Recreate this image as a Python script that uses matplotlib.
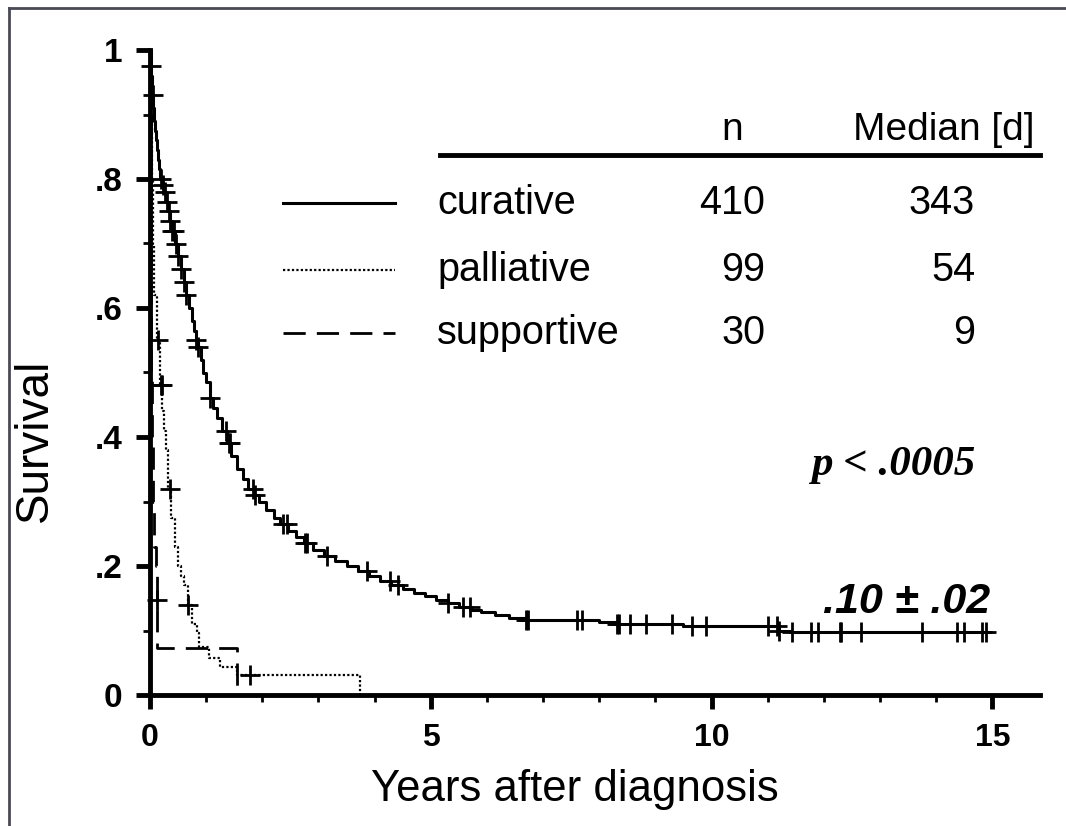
import numpy as np
import matplotlib.pyplot as plt
from matplotlib.lines import Line2D
from matplotlib.ticker import MultipleLocator

plt.rcParams['font.family'] = ['Liberation Sans', 'DejaVu Sans']

# Kaplan-Meier step knots (years, survival)
cur_t = [0, 0.01, 0.02, 0.03, 0.04, 0.055, 0.07, 0.085, 0.10, 0.12, 0.14, 0.16, 0.18,
         0.21, 0.25, 0.28, 0.32, 0.36, 0.40, 0.45, 0.50, 0.55, 0.60, 0.65, 0.70, 0.74,
         0.78, 0.82, 0.85, 0.90, 0.95, 1.0, 1.07, 1.13, 1.2, 1.28, 1.37, 1.45, 1.55,
         1.65, 1.75, 1.85, 1.95, 2.07, 2.2, 2.32, 2.45, 2.6, 2.75, 2.9, 3.1, 3.3, 3.5,
         3.7, 3.9, 4.1, 4.3, 4.5, 4.7, 4.9, 5.1, 5.3, 5.5, 5.7, 5.9, 6.15, 6.4, 6.7,
         8.0, 8.3, 9.5, 11.2, 11.4, 14.9]
cur_s = [1.0, 0.975, 0.96, 0.945, 0.93, 0.91, 0.89, 0.875, 0.86, 0.845, 0.83, 0.815,
         0.80, 0.79, 0.78, 0.765, 0.75, 0.735, 0.72, 0.70, 0.68, 0.66, 0.64, 0.62, 0.60,
         0.58, 0.565, 0.55, 0.54, 0.52, 0.50, 0.485, 0.46, 0.445, 0.43, 0.41, 0.39, 0.37,
         0.35, 0.335, 0.32, 0.31, 0.30, 0.287, 0.275, 0.265, 0.255, 0.245, 0.235, 0.225,
         0.215, 0.207, 0.20, 0.192, 0.185, 0.177, 0.17, 0.164, 0.158, 0.153, 0.148,
         0.142, 0.137, 0.132, 0.128, 0.124, 0.12, 0.117, 0.113, 0.11, 0.107, 0.10,
         0.097, 0.097]
cur_cens = [0.01, 0.05, 0.2, 0.23, 0.26, 0.3, 0.33, 0.36, 0.4, 0.43, 0.46, 0.5, 0.55,
            0.6, 0.65, 0.82, 0.86, 1.07, 1.35, 1.4, 1.43, 1.83, 1.87, 2.37, 2.44,
            2.76, 2.8, 3.15, 3.86, 4.27, 4.41, 5.3, 5.57, 5.69, 6.7, 6.73, 7.6,
            7.69, 8.32, 8.36, 8.54, 8.84, 9.3, 9.66, 9.91, 11.0, 11.17, 11.2, 11.44,
            11.78, 11.89, 12.28, 12.31, 12.67, 13.74, 14.38, 14.5, 14.82, 14.88]

pal_t = [0, 0.02, 0.04, 0.06, 0.08, 0.12, 0.18, 0.22, 0.25, 0.28, 0.32, 0.38, 0.45,
         0.5, 0.55, 0.6, 0.68, 0.75, 0.83, 0.88, 1.05, 1.25, 1.55, 3.74]
pal_s = [1.0, 0.9, 0.8, 0.7, 0.62, 0.55, 0.48, 0.44, 0.41, 0.38, 0.32, 0.275, 0.23,
         0.20, 0.185, 0.17, 0.14, 0.11, 0.096, 0.074, 0.057, 0.044, 0.031, 0.0]
pal_cens = [0.14, 0.19, 0.21, 0.36, 0.68, 1.78]

sup_t = [0, 0.005, 0.01, 0.015, 0.02, 0.025, 0.035, 0.05, 0.07, 0.1, 0.12, 0.13, 1.55]
sup_s = [1.0, 0.9, 0.8, 0.7, 0.6, 0.5, 0.4, 0.3, 0.23, 0.2, 0.147, 0.073, 0.0]
sup_cens = [0.125]

groups = ['curative', 'palliative', 'supportive']
n_pat = [410, 99, 30]
median_d = [343, 54, 9]

styles = [dict(ls='-', lw=2.2), dict(ls=(0, (1, 1)), lw=1.6), dict(ls=(0, (8, 4)), lw=2.0)]

fig = plt.figure(figsize=(10.66, 8.26), dpi=100)
ax = fig.add_axes([150 / 1066, 131 / 826, 890 / 1066, 645 / 826])


def surv_at(t, s, c):
    idx = np.searchsorted(t, c, side='right') - 1
    return np.asarray(s)[idx]


curves = [(cur_t, cur_s, cur_cens), (pal_t, pal_s, pal_cens), (sup_t, sup_s, sup_cens)]
for (t, s, c), st in zip(curves, styles):
    ax.step(t, s, where='post', color='black', clip_on=False, **st)
    ax.plot(c, surv_at(t, s, c), '+', color='black', ms=14, mew=2, clip_on=False)

ax.set_xlim(0, 15.85)
ax.set_ylim(0, 1)
for sp in ['top', 'right']:
    ax.spines[sp].set_visible(False)
for sp in ['left', 'bottom']:
    ax.spines[sp].set_linewidth(3.5)

ax.set_xticks([0, 5, 10, 15])
ax.set_xticklabels(['0', '5', '10', '15'], fontweight='bold', fontsize=23)
ax.xaxis.set_minor_locator(MultipleLocator(1))
ax.set_yticks([0, 0.2, 0.4, 0.6, 0.8, 1.0])
ax.set_yticklabels(['0', '.2', '.4', '.6', '.8', '1'], fontweight='bold', fontsize=24)
ax.yaxis.set_minor_locator(MultipleLocator(0.1))
ax.tick_params(which='major', length=10, width=3.5, pad=10)
ax.tick_params(which='minor', length=5, width=2)

fig.text(575 / 1066, 1 - 790 / 826, 'Years after diagnosis', fontsize=31.5,
         ha='center', va='center')
fig.text(35 / 1066, 1 - 440 / 826, 'Survival', fontsize=33, rotation=90,
         ha='center', va='center')

# legend table
ax.plot([0.326, 1.0], [0.837, 0.837], transform=ax.transAxes, color='black', lw=3.5,
        clip_on=False)
ax.text(0.654, 0.876, 'n', transform=ax.transAxes, fontsize=28, ha='center', va='center')
ax.text(0.994, 0.876, 'Median [d]', transform=ax.transAxes, fontsize=28, ha='right',
        va='center')
row_y = [0.763, 0.659, 0.561]
for g, n, m, y, st in zip(groups, n_pat, median_d, row_y, styles):
    ax.plot([0.149, 0.275], [y, y], transform=ax.transAxes, color='black', **st)
    ax.text(0.3225, y, g, transform=ax.transAxes, fontsize=28.5, va='center')
    ax.text(0.691, y, str(n), transform=ax.transAxes, fontsize=28.5, ha='right', va='center')
    ax.text(0.927, y, str(m), transform=ax.transAxes, fontsize=28.5, ha='right', va='center')

ax.text(0.927, 0.357, 'p < .0005', transform=ax.transAxes, fontsize=31, ha='right',
        va='center', family='Liberation Serif', style='italic', fontweight='bold')
ax.text(0.944, 0.144, '.10 ± .02', transform=ax.transAxes, fontsize=31, ha='right',
        va='center', style='italic', fontweight='bold')

# page frame (top and left edges)
fig.add_artist(Line2D([9 / 1066, 1], [1 - 8 / 826, 1 - 8 / 826], color='#4a4a55', lw=2))
fig.add_artist(Line2D([9 / 1066, 9 / 1066], [0, 1 - 8 / 826], color='#4a4a55', lw=2))

fig.savefig('out.png', dpi=100)
